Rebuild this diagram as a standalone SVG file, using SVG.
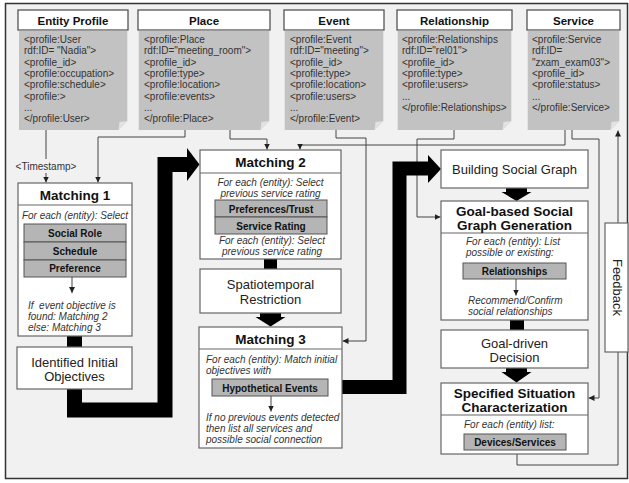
<svg xmlns="http://www.w3.org/2000/svg" width="629" height="483" viewBox="0 0 629 483">
<defs>
<style>
.frame{fill:#f1f1f1;stroke:#333;stroke-width:1.5}
.hdr{fill:#fff;stroke:#555;stroke-width:1.3}
.card{fill:#c2c2c2}
.fold{fill:#e2e2e2}
.box{fill:#fff;stroke:#666;stroke-width:1.2}
.div{stroke:#666;stroke-width:1.2}
.row{fill:#b5b5b5;stroke:#555;stroke-width:1}
.ln{fill:none;stroke:#444;stroke-width:1}
.thick{fill:none;stroke:#000}
.tc{font-family:"Liberation Sans",Arial,sans-serif;font-size:10px;fill:#333}
.th{font-family:"Liberation Sans",Arial,sans-serif;font-size:11.5px;font-weight:bold;fill:#111;text-anchor:middle}
.tt{font-family:"Liberation Sans",Arial,sans-serif;font-size:13.5px;font-weight:bold;fill:#111;text-anchor:middle}
.tr{font-family:"Liberation Sans",Arial,sans-serif;font-size:13px;fill:#222;text-anchor:middle}
.ti{font-family:"Liberation Sans",Arial,sans-serif;font-size:10px;font-style:italic;fill:#333;white-space:pre}
.mid{text-anchor:middle}
.trow{font-family:"Liberation Sans",Arial,sans-serif;font-size:10px;font-weight:bold;fill:#111;text-anchor:middle}
</style>
<marker id="ah" viewBox="0 0 8 8" refX="8" refY="4" markerWidth="6" markerHeight="6" orient="auto" markerUnits="userSpaceOnUse"><path d="M0,0 L8,4 L0,8 z" fill="#222"/></marker>
</defs>

<rect class="frame" x="5.5" y="3.5" width="622" height="475"/>

<g id="card-entity">
<rect class="hdr" x="18" y="10" width="110" height="20"/>
<text class="th" x="73" y="24.5">Entity Profile</text>
<path class="card" d="M19,30.7 H127.3 V121 L118.5,130 H19 Z"/>
<path class="fold" d="M127.3,121 L118.5,130 L119.5,122 Z"/>
<text class="tc" x="24" y="43">&lt;profile:User</text>
<text class="tc" x="24" y="54.3">rdf:ID= "Nadia"&gt;</text>
<text class="tc" x="24" y="65.6">&lt;profile_id&gt;</text>
<text class="tc" x="24" y="76.9">&lt;profile:occupation&gt;</text>
<text class="tc" x="24" y="88.2">&lt;profile:schedule&gt;</text>
<text class="tc" x="24" y="99.5">&lt;profile:&gt;</text>
<text class="tc" x="24" y="110.8">...</text>
<text class="tc" x="24" y="122.1">&lt;/profile:User&gt;</text>
</g>

<g id="card-place">
<rect class="hdr" x="138" y="10" width="132" height="20"/>
<text class="th" x="204" y="24.5">Place</text>
<path class="card" d="M138.7,30.7 H269.3 V121 L260.5,130 H138.7 Z"/>
<path class="fold" d="M269.3,121 L260.5,130 L261.5,122 Z"/>
<text class="tc" x="144" y="43">&lt;profile:Place</text>
<text class="tc" x="144" y="54.3">rdf:ID="meeting_room"&gt;</text>
<text class="tc" x="144" y="65.6">&lt;profile_id&gt;</text>
<text class="tc" x="144" y="76.9">&lt;profile:type&gt;</text>
<text class="tc" x="144" y="88.2">&lt;profile:location&gt;</text>
<text class="tc" x="144" y="99.5">&lt;profile:events&gt;</text>
<text class="tc" x="144" y="110.8">...</text>
<text class="tc" x="144" y="122.1">&lt;/profile:Place&gt;</text>
</g>

<g id="card-event">
<rect class="hdr" x="284" y="10" width="100" height="20"/>
<text class="th" x="334" y="24.5">Event</text>
<path class="card" d="M284.7,30.7 H383.3 V121 L374.5,130 H284.7 Z"/>
<path class="fold" d="M383.3,121 L374.5,130 L375.5,122 Z"/>
<text class="tc" x="290" y="43">&lt;profile:Event</text>
<text class="tc" x="290" y="54.3">rdf:ID="meeting"&gt;</text>
<text class="tc" x="290" y="65.6">&lt;profile_id&gt;</text>
<text class="tc" x="290" y="76.9">&lt;profile:type&gt;</text>
<text class="tc" x="290" y="88.2">&lt;profile:location&gt;</text>
<text class="tc" x="290" y="99.5">&lt;profile:users&gt;</text>
<text class="tc" x="290" y="110.8">...</text>
<text class="tc" x="290" y="122.1">&lt;/profile:Event&gt;</text>
</g>

<g id="card-relationship">
<rect class="hdr" x="397" y="10" width="115" height="20"/>
<text class="th" x="454.5" y="24.5">Relationship</text>
<path class="card" d="M397.7,30.7 H511.3 V121 L502.5,130 H397.7 Z"/>
<path class="fold" d="M511.3,121 L502.5,130 L503.5,122 Z"/>
<text class="tc" x="402" y="43">&lt;profile:Relationships</text>
<text class="tc" x="402" y="54.3">rdf:ID="rel01"&gt;</text>
<text class="tc" x="402" y="65.6">&lt;profile_id&gt;</text>
<text class="tc" x="402" y="76.9">&lt;profile:type&gt;</text>
<text class="tc" x="402" y="88.2">&lt;profile:users&gt;</text>
<text class="tc" x="402" y="99.5">...</text>
<text class="tc" x="402" y="110.8">&lt;/profile:Relationships&gt;</text>
</g>

<g id="card-service">
<rect class="hdr" x="527" y="10" width="93" height="20"/>
<text class="th" x="573.5" y="24.5">Service</text>
<path class="card" d="M527.7,30.7 H619.3 V121 L610.5,130 H527.7 Z"/>
<path class="fold" d="M619.3,121 L610.5,130 L611.5,122 Z"/>
<text class="tc" x="532" y="43">&lt;profile:Service</text>
<text class="tc" x="532" y="54.3">rdf:ID=</text>
<text class="tc" x="532" y="65.6">"zxam_exam03"&gt;</text>
<text class="tc" x="532" y="76.9">&lt;profile_id&gt;</text>
<text class="tc" x="532" y="88.2">&lt;profile:status&gt;</text>
<text class="tc" x="532" y="99.5">...</text>
<text class="tc" x="532" y="110.8">&lt;/profile:Service&gt;</text>
</g>

<g id="connectors">
<path class="ln" d="M46,130 V159 M46,173 V182.5" marker-end="url(#ah)"/>
<text class="tc mid" x="46" y="169.5">&lt;Timestamp&gt;</text>
<path class="ln" d="M185,130 V137 H98 V182.5" marker-end="url(#ah)"/>
<path class="ln" d="M230,130 V139 H267 V149.5" marker-end="url(#ah)"/>
<path class="ln" d="M565,130 V145 H300 V149.5" marker-end="url(#ah)"/>
<path class="ln" d="M336,130 V138 H366 V341 H342.5" marker-end="url(#ah)"/>
<path class="ln" d="M454,130 V139 H417 V217 H440.5" marker-end="url(#ah)"/>
<path class="ln" d="M572,130 V139 H599 V398 H588.5" marker-end="url(#ah)"/>
<path class="ln" d="M517,454 V465 H618 V352"/>
<path class="ln" d="M618,223 V130.5" marker-end="url(#ah)"/>
<path class="thick" stroke-width="15" d="M74.5,389 V410 H165 V164.5 H188"/>
<polygon points="187,148 199.5,164.5 187,181" fill="#000"/>
<path class="thick" stroke-width="14" d="M342,387 H399.5 V168.5 H429"/>
<polygon points="428,155 441,169 428,183" fill="#000"/>
<rect x="67" y="336" width="15" height="11" fill="#000"/>
<rect x="264" y="259" width="13" height="10" fill="#000"/>
<rect x="510" y="320" width="14" height="10" fill="#000"/>
<polygon points="260,313 281,313 281,317 285.5,317 270.5,326.5 255.5,317 260,317" fill="#000"/>
<polygon points="506,188 527,188 527,192 531.5,192 516.5,201 501.5,192 506,192" fill="#000"/>
<polygon points="506,368 527,368 527,372 531.5,372 516.5,382.5 501.5,372 506,372" fill="#000"/>
</g>

<g id="matching1">
<rect class="box" x="18" y="183" width="114" height="153"/>
<line class="div" x1="18" y1="205" x2="132" y2="205"/>
<text class="tt" x="75" y="199.5">Matching 1</text>
<text class="ti mid" x="75" y="218.5">For each (entity): Select</text>
<rect class="row" x="24" y="224" width="102" height="18"/>
<rect class="row" x="24" y="242" width="102" height="18"/>
<rect class="row" x="24" y="260" width="102" height="17"/>
<text class="trow" x="75" y="236.5">Social Role</text>
<text class="trow" x="75" y="254.5">Schedule</text>
<text class="trow" x="75" y="272">Preference</text>
<path class="ln" d="M72,277 V293" marker-end="url(#ah)"/>
<text class="ti" x="28" y="308.5">If  event objective is</text>
<text class="ti" x="28" y="319.5">found: Matching 2</text>
<text class="ti" x="28" y="330.5">else: Matching 3</text>
</g>

<g id="identified">
<rect class="box" x="17" y="347" width="115" height="42"/>
<text class="tr" x="74.5" y="366.5">Identified Initial</text>
<text class="tr" x="74.5" y="381">Objectives</text>
</g>

<g id="matching2">
<rect class="box" x="200" y="150" width="141" height="109"/>
<line class="div" x1="200" y1="173" x2="341" y2="173"/>
<text class="tt" x="270.5" y="166.5">Matching 2</text>
<text class="ti mid" x="270.5" y="185.5">For each (entity): Select</text>
<text class="ti mid" x="270.5" y="196.5">previous service rating</text>
<rect class="row" x="215" y="200" width="112" height="17"/>
<rect class="row" x="215" y="217" width="112" height="17"/>
<text class="trow" x="271" y="212.5">Preferences/Trust</text>
<text class="trow" x="271" y="229.5">Service Rating</text>
<text class="ti mid" x="272" y="243.5">For each (entity): Select</text>
<text class="ti mid" x="272" y="254.5">previous service rating</text>
</g>

<g id="spatiotemporal">
<rect class="box" x="200" y="269" width="141" height="44"/>
<text class="tr" x="270.5" y="288.5">Spatiotemporal</text>
<text class="tr" x="270.5" y="303.5">Restriction</text>
</g>

<g id="matching3">
<rect class="box" x="199" y="327" width="143" height="121"/>
<line class="div" x1="199" y1="349" x2="342" y2="349"/>
<text class="tt" x="270.5" y="343.5">Matching 3</text>
<text class="ti" x="206" y="362.5">For each (entity): Match initial</text>
<text class="ti" x="206" y="374">objectives with</text>
<rect class="row" x="212" y="379" width="116" height="17"/>
<text class="trow" x="270" y="391.5">Hypothetical Events</text>
<path class="ln" d="M271,396 V411.5" marker-end="url(#ah)"/>
<text class="ti" x="206" y="420.5">If no previous events detected</text>
<text class="ti" x="206" y="431.5">then list all services and</text>
<text class="ti" x="206" y="442.5">possible social connection</text>
</g>

<g id="building">
<rect class="box" x="441" y="150" width="147" height="38"/>
<text class="tr" x="514.5" y="174">Building Social Graph</text>
</g>

<g id="goal-based">
<rect class="box" x="441" y="201" width="147" height="119"/>
<line class="div" x1="441" y1="233" x2="588" y2="233"/>
<text class="tt" x="514.5" y="215.5">Goal-based Social</text>
<text class="tt" x="514.5" y="230">Graph Generation</text>
<text class="ti" x="466" y="244.5">For each (entity): List</text>
<text class="ti" x="466" y="256">possible or existing:</text>
<rect class="row" x="463" y="263" width="103" height="16"/>
<text class="trow" x="514.5" y="275">Relationships</text>
<path class="ln" d="M516,279 V295.5" marker-end="url(#ah)"/>
<text class="ti" x="468" y="303.5">Recommend/Confirm</text>
<text class="ti" x="468" y="315">social relationships</text>
</g>

<g id="goal-driven">
<rect class="box" x="441" y="330" width="147" height="38"/>
<text class="tr" x="514.5" y="347.5">Goal-driven</text>
<text class="tr" x="514.5" y="361.5">Decision</text>
</g>

<g id="specified">
<rect class="box" x="441" y="383" width="147" height="71"/>
<line class="div" x1="441" y1="415" x2="588" y2="415"/>
<text class="tt" x="514.5" y="397.5">Specified Situation</text>
<text class="tt" x="514.5" y="412">Characterization</text>
<text class="ti" x="464" y="427.5">For each (entity) list:</text>
<rect class="row" x="464" y="434" width="102" height="16"/>
<text class="trow" x="515" y="446">Devices/Services</text>
</g>

<g id="feedback">
<rect class="box" x="605" y="223" width="23" height="129"/>
<text class="tr" font-size="12" transform="translate(613,287.5) rotate(90)" x="0" y="0">Feedback</text>
</g>
</svg>
